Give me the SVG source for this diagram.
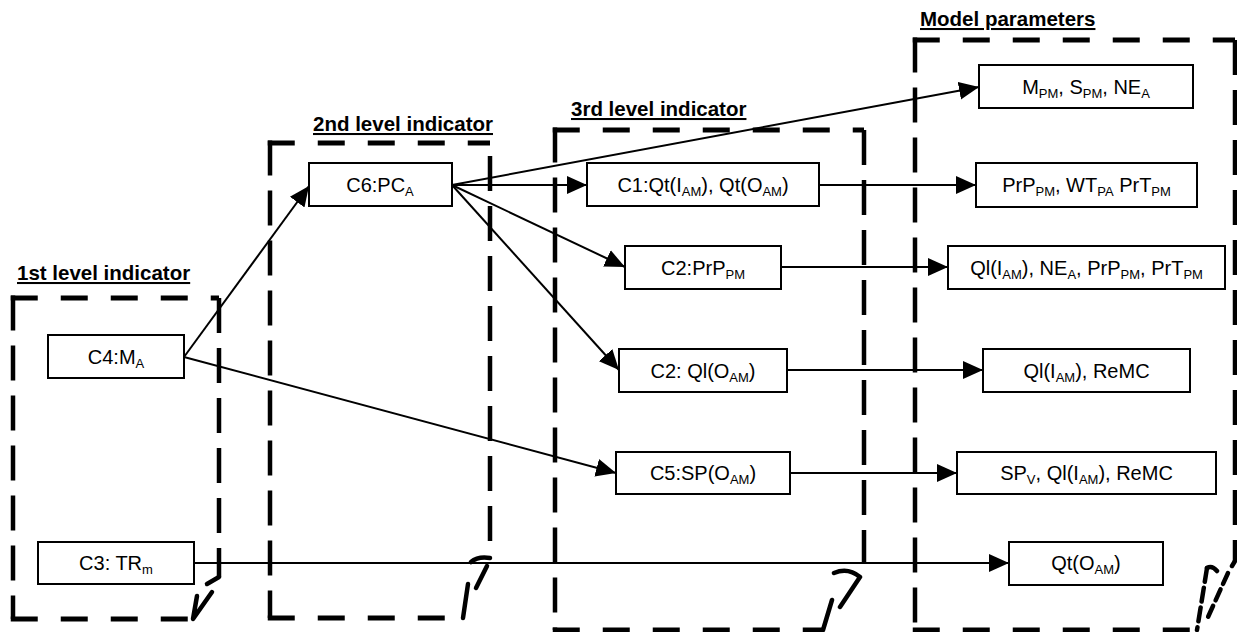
<svg xmlns="http://www.w3.org/2000/svg" width="1237" height="632" viewBox="0 0 1237 632">
<style>
.dh{stroke:#000;stroke-width:5;stroke-dasharray:27 23;fill:none}
.dv{stroke:#000;stroke-width:4.5;stroke-dasharray:35 15;fill:none}
.fold{stroke:#000;stroke-width:4.5;fill:none;stroke-linecap:round;stroke-linejoin:round}
.lbl{font-family:"Liberation Sans",Arial,sans-serif;font-weight:bold;font-size:20.5px;text-decoration:underline;fill:#000}
.box{fill:#fff;stroke:#000;stroke-width:2}
.t{font-family:"Liberation Sans",Arial,sans-serif;font-size:20px;text-anchor:middle;fill:#000}
.s{font-size:13px}
.c{stroke:#000;stroke-width:2;fill:none;marker-end:url(#ah)}
</style>
<defs>
<marker id="ah" markerUnits="userSpaceOnUse" markerWidth="22" markerHeight="20" refX="20" refY="10" orient="auto">
<path d="M0,1 L20,10 L0,19 z" fill="#000"/>
</marker>
</defs>

<g id="level1">
<path class="dh" d="M10.75,298 H219"/>
<path class="dv" d="M13,295.5 V619"/>
<path class="dh" d="M10.75,619 H193"/>
<path class="dv" d="M219,298 V577"/>
<path class="fold" d="M219,577 L207,584 M197,596 L193,619 L212,592"/>
<text class="lbl" x="17" y="280">1st level indicator</text>
</g>

<g id="level2">
<path class="dh" d="M267.75,143 H490"/>
<path class="dv" d="M270,140.5 V618"/>
<path class="dh" d="M267.75,618 H463"/>
<path class="dv" d="M490,156 V545"/>
<path class="fold" d="M471,562 Q478,556 490,558 M487,566 L476,588 M468,584 L463,618"/>
<text class="lbl" x="313" y="131">2nd level indicator</text>
</g>

<g id="level3">
<path class="dh" d="M552.75,130 H864"/>
<path class="dv" d="M555,127.5 V630"/>
<path class="dh" d="M552.75,630 H823"/>
<path class="dv" d="M864,130 V563"/>
<path class="fold" d="M834,573 Q848,567 860,577 L840,607 M832,600 L823,630"/>
<text class="lbl" x="571" y="116">3rd level indicator</text>
</g>

<g id="model">
<path class="dh" d="M912.75,40 H1235"/>
<path class="dv" d="M915,37.5 V630"/>
<path class="dh" d="M912.75,630 H1197"/>
<path class="dv" d="M1235,40 V561"/>
<path class="fold" d="M1207,568 Q1212,565 1217,571 M1235,561 L1232,566"/>
<path class="fold" stroke-dasharray="12 6" d="M1228,573 L1208,617"/>
<path class="fold" stroke-dasharray="14 6" d="M1207,568 L1197,630"/>
<text class="lbl" x="920" y="26">Model parameters</text>
</g>

<g id="connectors">
<path class="c" d="M184,357 L309,186"/>
<path class="c" d="M184,357 L616,473"/>
<path class="c" d="M452,185 L979,87"/>
<path class="c" d="M452,185 L587,185"/>
<path class="c" d="M452,185 L625,267"/>
<path class="c" d="M452,185 L619,370"/>
<path class="c" d="M819,185 L976,185"/>
<path class="c" d="M781,267 L948,267"/>
<path class="c" d="M787,370 L983,370"/>
<path class="c" d="M790,473 L957,473"/>
<path class="c" d="M194,563 L1009,563"/>
</g>

<g id="C4"><rect class="box" x="48" y="335" width="136" height="43"/><text class="t" x="116" y="364">C4:M<tspan class="s" dy="4">A</tspan></text></g>
<g id="C3"><rect class="box" x="38" y="542" width="156" height="42"/><text class="t" x="116" y="570">C3: TR<tspan class="s" dy="4">m</tspan></text></g>
<g id="C6"><rect class="box" x="309" y="163" width="143" height="43"/><text class="t" x="380" y="192">C6:PC<tspan class="s" dy="4">A</tspan></text></g>
<g id="C1"><rect class="box" x="587" y="163" width="232" height="43"/><text class="t" x="703" y="192">C1:Qt(I<tspan class="s" dy="4">AM</tspan><tspan dy="-4">), Qt(O</tspan><tspan class="s" dy="4">AM</tspan><tspan dy="-4">)</tspan></text></g>
<g id="C2a"><rect class="box" x="625" y="246" width="156" height="43"/><text class="t" x="703" y="275">C2:PrP<tspan class="s" dy="4">PM</tspan></text></g>
<g id="C2b"><rect class="box" x="619" y="349" width="168" height="43"/><text class="t" x="703" y="378">C2: Ql(O<tspan class="s" dy="4">AM</tspan><tspan dy="-4">)</tspan></text></g>
<g id="C5"><rect class="box" x="616" y="452" width="174" height="42"/><text class="t" x="703" y="480">C5:SP(O<tspan class="s" dy="4">AM</tspan><tspan dy="-4">)</tspan></text></g>

<g id="P1"><rect class="box" x="979" y="65" width="214" height="43"/><text class="t" x="1086" y="94">M<tspan class="s" dy="4">PM</tspan><tspan dy="-4">, S</tspan><tspan class="s" dy="4">PM</tspan><tspan dy="-4">, NE</tspan><tspan class="s" dy="4">A</tspan></text></g>
<g id="P2"><rect class="box" x="976" y="163" width="221" height="44"/><text class="t" x="1086.5" y="192">PrP<tspan class="s" dy="4">PM</tspan><tspan dy="-4">, WT</tspan><tspan class="s" dy="4">PA</tspan><tspan dy="-4"> PrT</tspan><tspan class="s" dy="4">PM</tspan></text></g>
<g id="P3"><rect class="box" x="948" y="246" width="277" height="43"/><text class="t" x="1086.5" y="275">Ql(I<tspan class="s" dy="4">AM</tspan><tspan dy="-4">), NE</tspan><tspan class="s" dy="4">A</tspan><tspan dy="-4">, PrP</tspan><tspan class="s" dy="4">PM</tspan><tspan dy="-4">, PrT</tspan><tspan class="s" dy="4">PM</tspan></text></g>
<g id="P4"><rect class="box" x="983" y="349" width="207" height="43"/><text class="t" x="1086.5" y="378">Ql(I<tspan class="s" dy="4">AM</tspan><tspan dy="-4">), ReMC</tspan></text></g>
<g id="P5"><rect class="box" x="957" y="452" width="259" height="42"/><text class="t" x="1086.5" y="480">SP<tspan class="s" dy="4">V</tspan><tspan dy="-4">, Ql(I</tspan><tspan class="s" dy="4">AM</tspan><tspan dy="-4">), ReMC</tspan></text></g>
<g id="P6"><rect class="box" x="1009" y="542" width="154" height="43"/><text class="t" x="1086" y="570">Qt(O<tspan class="s" dy="4">AM</tspan><tspan dy="-4">)</tspan></text></g>
</svg>
